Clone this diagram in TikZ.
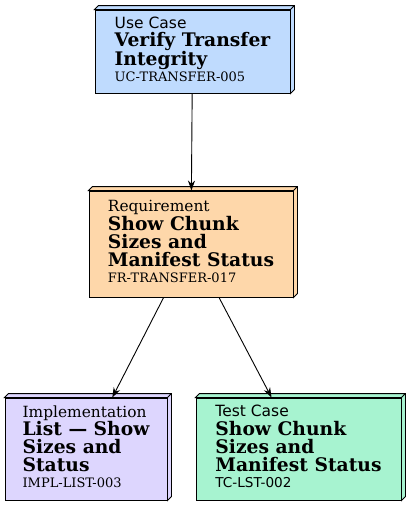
\documentclass[tikz,border=0pt]{standalone}
\usepackage{fontspec}
\setmainfont{DejaVu Serif}
\setsansfont{DejaVu Sans}
\usepackage{tikz}
\usetikzlibrary{arrows.meta, positioning}
\definecolor{caseblue}{HTML}{BFDBFE}
\definecolor{reqorange}{HTML}{FED7AA}
\definecolor{implviolet}{HTML}{DDD6FE}
\definecolor{testgreen}{HTML}{A7F3D0}
\newcommand{\kindsf}[1]{{\sffamily\mdseries\fontsize{15.5}{18.3}\selectfont #1}}
\newcommand{\kindrm}[1]{{\mdseries\fontsize{15.4}{18.3}\selectfont #1}}
\newcommand{\tracesf}[1]{{\sffamily\mdseries\fontsize{13.6}{18.3}\selectfont #1}}
\newcommand{\tracerm}[1]{{\mdseries\fontsize{13}{18.3}\selectfont #1}}
\tikzset{
  >=Stealth,
  tracearrow/.style={-{Stealth[length=10pt, width=7pt]}, black, line width=0.9pt},
  cubebox/.style={draw, fill=#1, rectangle, align=left, inner sep=0pt, line width=0.9pt,
    text depth=5pt, font=\bfseries\fontsize{18.7}{18.3}\selectfont}
}

\begin{document}
\begin{tikzpicture}[x=1pt, y=-1pt]
    \useasboundingbox (0,0) rectangle (411,507);

    \node (uc) [cubebox=caseblue, minimum width=195pt, minimum height=83pt] at (192.5,51.5)
      {\kindsf{Use Case}\\Verify Transfer\\Integrity\\[-2.6pt]\tracerm{UC-TRANSFER-005}};
    \node (req) [cubebox=reqorange, minimum width=204pt, minimum height=106pt] at (191,244)
      {\kindrm{Requirement}\\Show Chunk\\Sizes and\\Manifest Status\\[-2.6pt]\tracerm{FR-TRANSFER-017}};
    \node (impl) [cubebox=implviolet, minimum width=162pt, minimum height=102pt] at (86,449)
      {\kindrm{Implementation}\\List --- Show\\Sizes and\\Status\\[-2.6pt]\tracerm{IMPL-LIST-003}};
    \node (tc) [cubebox=testgreen, minimum width=205pt, minimum height=102pt] at (298.5,449)
      {\kindsf{Test Case}\\Show Chunk\\Sizes and\\Manifest Status\\[-2.6pt]\tracesf{TC-LST-002}};

    % 3d top and side faces
    \foreach \n/\c in {uc/caseblue, req/reqorange, impl/implviolet, tc/testgreen}
      \draw[fill=\c, line width=0.9pt] (\n.north west) -- ++(4pt,4pt) -- ([shift={(4pt,4pt)}]\n.north east)
        -- ([shift={(4pt,4pt)}]\n.south east) -- (\n.south east) -- (\n.north east) -- cycle
        (\n.north east) -- ++(4pt,4pt);

    \draw[tracearrow] (uc) -- (req);
    \draw[tracearrow] (req) -- (impl);
    \draw[tracearrow] (req) -- (tc);
\end{tikzpicture}
\end{document}
